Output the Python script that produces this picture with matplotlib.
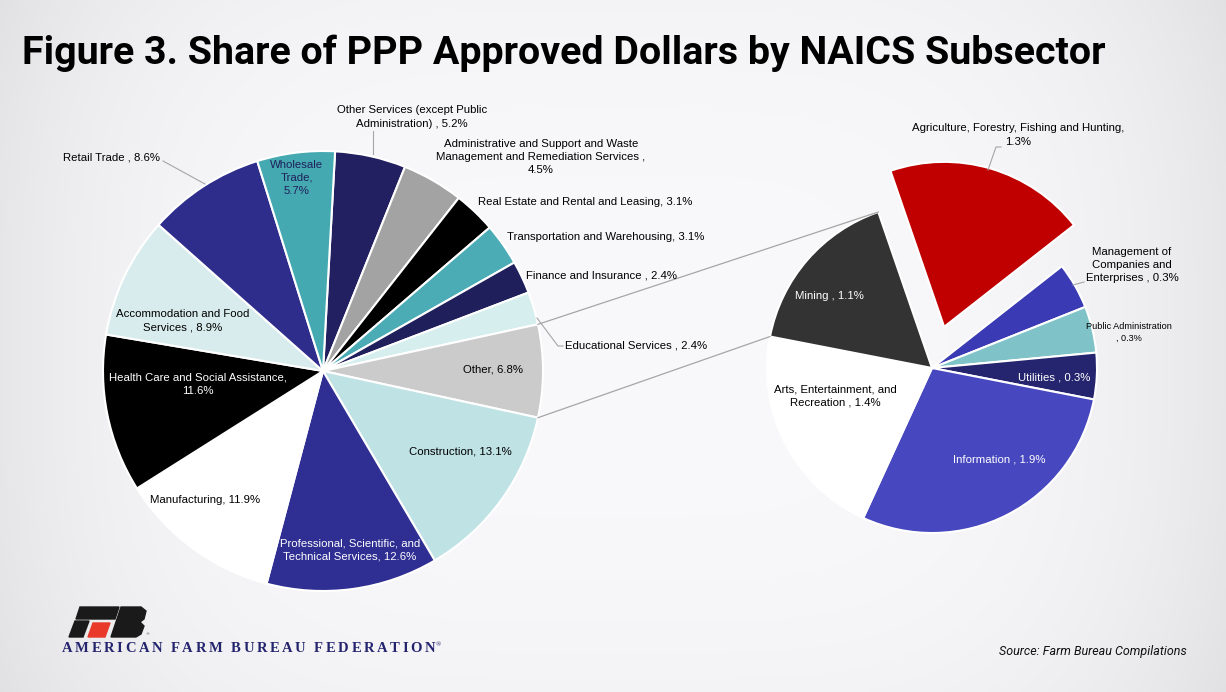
import numpy as np
import matplotlib
matplotlib.use('Agg')
import matplotlib.pyplot as plt
from matplotlib.patches import Polygon
from matplotlib import font_manager

# ---- data ----
main_labels = ['Other Services (except Public\nAdministration) , 5.2%',
               'Administrative and Support and Waste\nManagement and Remediation Services ,\n4.5%',
               'Real Estate and Rental and Leasing, 3.1%',
               'Transportation and Warehousing, 3.1%',
               'Finance and Insurance , 2.4%',
               'Educational Services , 2.4%',
               'Other, 6.8%',
               'Construction, 13.1%',
               'Professional, Scientific, and\nTechnical Services, 12.6%',
               'Manufacturing, 11.9%',
               'Health Care and Social Assistance,\n11.6%',
               'Accommodation and Food\nServices , 8.9%',
               'Retail Trade , 8.6%',
               'Wholesale\nTrade,\n5.7%']
main_vals = [5.2, 4.5, 3.1, 3.1, 2.4, 2.4, 6.8, 13.1, 12.6, 11.9, 11.6, 8.9, 8.6, 5.7]
main_colors = ['#222060', '#a3a3a3', '#000000', '#4bacb6', '#1f1f5b', '#d6eeee', '#cbcbcb',
               '#bfe2e4', '#2e2e93', '#ffffff', '#000000', '#d9eced', '#2e2d8c', '#45a9b1']

sec_labels = ['Agriculture, Forestry, Fishing and Hunting,\n1.3%',
              'Management of\nCompanies and\nEnterprises , 0.3%',
              'Public Administration\n, 0.3%',
              'Utilities , 0.3%',
              'Information , 1.9%',
              'Arts, Entertainment, and\nRecreation , 1.4%',
              'Mining , 1.1%']
sec_vals = [1.3, 0.3, 0.3, 0.3, 1.9, 1.4, 1.1]
sec_colors = ['#c00000', '#3a3ab4', '#7fc3c8', '#25246e', '#4747bf', '#ffffff', '#333333']
sec_explode = [0.26, 0, 0, 0, 0, 0, 0]

title = 'Figure 3. Share of PPP Approved Dollars by NAICS Subsector'
source = 'Source: Farm Bureau Compilations'
org = 'AMERICAN FARM BUREAU FEDERATION'

W, H = 1226, 692
def Y(y):
    return H - y

installed = {f.name for f in font_manager.fontManager.ttflist}
narrow = 'Liberation Sans Narrow' if 'Liberation Sans Narrow' in installed else 'Roboto'

fig = plt.figure(figsize=(12.26, 6.92), dpi=100)
ax = fig.add_axes([0, 0, 1, 1])
ax.set_xlim(0, W)
ax.set_ylim(0, H)
renderer = fig.canvas.get_renderer()

# background gradient
xx = np.linspace(-1, 1, 400)
yy = np.linspace(-1, 1, 240)
gx, gy = np.meshgrid(xx, yy)
shade = 0.975 - 0.07 * np.abs(gx) ** 4 - 0.02 * np.abs(gy) ** 3
bg = np.dstack([shade, shade, shade + 0.01])
ax.imshow(np.clip(bg, 0, 1), extent=[0, W, 0, H], aspect='auto', zorder=0)

# main pie
main_c = (323, Y(371))
main_r = 220
tot = sum(main_vals)
k = main_labels.index('Other, 6.8%')
start = 360 * (sum(main_vals[:k]) + main_vals[k] / 2) / tot
mw, _ = ax.pie(main_vals, colors=main_colors, startangle=start, counterclock=False,
               center=main_c, radius=main_r,
               wedgeprops=dict(edgecolor='white', linewidth=1.5))

# secondary pie (explode in matplotlib is absolute, so scale by radius)
sec_c = (932, Y(368))
sec_r = 165
sw, _ = ax.pie(sec_vals, colors=sec_colors, startangle=109, counterclock=False,
               center=sec_c, radius=sec_r, explode=[e * sec_r for e in sec_explode],
               wedgeprops=dict(edgecolor='white', linewidth=1.5))

# connector lines
ow = mw[k]
def pt(c, r, a):
    return c[0] + r * np.cos(np.radians(a)), c[1] + r * np.sin(np.radians(a))
p1 = pt(main_c, main_r, ow.theta2)
p2 = pt(main_c, main_r, ow.theta1)
q1 = pt(sec_c, sec_r, sw[-1].theta1)
q2 = pt(sec_c, sec_r, sw[-2].theta1)
for a, b in [(p1, q1), (p2, q2)]:
    ax.plot([a[0], b[0]], [a[1], b[1]], color='#a6a6a6', lw=0.9, zorder=1)

fam = ['Liberation Sans', 'DejaVu Sans']
fs = 8.2

def lab(x, y, s, ha='center', color='black', size=fs):
    ax.text(x, Y(y), s, ha=ha, va='center', color=color, fontsize=size,
            family=fam, linespacing=1.4, zorder=5)

def leader(pts):
    ax.plot([p[0] for p in pts], [Y(p[1]) for p in pts], color='#a6a6a6', lw=0.8, zorder=4)

# main labels
lab(412, 117, main_labels[0])
leader([(373, 131), (373, 154)])
lab(541, 157, main_labels[1])
lab(478, 202, main_labels[2], ha='left')
lab(507, 237, main_labels[3], ha='left')
lab(526, 275, main_labels[4], ha='left')
lab(565, 346, main_labels[5], ha='left')
leader([(563, 346), (558, 346), (537, 318)])
lab(493, 370, main_labels[6])
lab(460, 452, main_labels[7])
lab(350, 550, main_labels[8], color='white')
lab(205, 500, main_labels[9])
lab(198, 384, main_labels[10], color='white')
lab(183, 321, main_labels[11])
lab(160, 158, main_labels[12], ha='right')
leader([(163, 161), (205, 184)])
lab(297, 178, main_labels[13], color='#1f1f5a')

# secondary labels
lab(1018, 135, sec_labels[0])
leader([(1001, 147), (996, 147), (988, 170)])
lab(1132, 265, sec_labels[1])
leader([(1084, 282), (1073, 285)])
lab(1129, 332, sec_labels[2], size=6.6)
lab(1054, 378, sec_labels[3], color='white')
lab(999, 459, sec_labels[4], color='white')
lab(835, 396, sec_labels[5])
lab(829, 296, sec_labels[6], color='white')

# title, sized to fit its width in the reference
t = ax.text(22, Y(53), title, ha='left', va='center', fontsize=30, fontweight='bold',
            family=[narrow, 'DejaVu Sans'], color='black')
w = t.get_window_extent(renderer).width
t.set_fontsize(30 * 1081 / w)

# source
s = ax.text(1187, Y(651), source, ha='right', va='center', fontsize=9, style='italic',
            family=[narrow, 'DejaVu Sans'], color='#111111')
w = s.get_window_extent(renderer).width
s.set_fontsize(min(9, 9 * 189 / w))

# logo
logo_black = [
    [(80, 607), (119, 607), (115, 619), (76, 619)],
    [(75, 621), (89, 621), (83, 637), (69, 637)],
    [(121, 607), (141, 607), (146, 611), (144, 619), (140, 622), (144, 626), (141, 634), (136, 637), (111, 637)],
]
for poly in logo_black:
    ax.add_patch(Polygon([(x, Y(y)) for x, y in poly], closed=True, color='#1a1a1a', zorder=5))
ax.add_patch(Polygon([(x, Y(y)) for x, y in [(93, 623), (110, 623), (105, 637), (88, 637)]],
                     closed=True, color='#e8392b', zorder=5))
ax.text(145, Y(634), '®', fontsize=3, color='#555555', va='center')

# organisation name with letter spacing
ofont = dict(fontsize=10.5, fontweight='bold', family=['Liberation Serif', 'DejaVu Serif'],
             color='#24246e', va='center', ha='left')
widths = []
chars = []
for ch in org:
    c = ax.text(0, Y(648), ch, **ofont)
    widths.append(c.get_window_extent(renderer).width if ch != ' ' else 3.5)
    chars.append(c)
track = (373 - sum(widths)) / (len(org) - 1)
x = 62
for c, wd in zip(chars, widths):
    c.set_x(x)
    x += wd + track
ax.text(x - track + 1, Y(645), '®', fontsize=5, color='#24246e', va='center', ha='left',
        family=['Liberation Serif', 'DejaVu Serif'])

ax.set_xlim(0, W)
ax.set_ylim(0, H)
ax.set_aspect('equal')
ax.axis('off')

fig.savefig('out.png', dpi=100)
